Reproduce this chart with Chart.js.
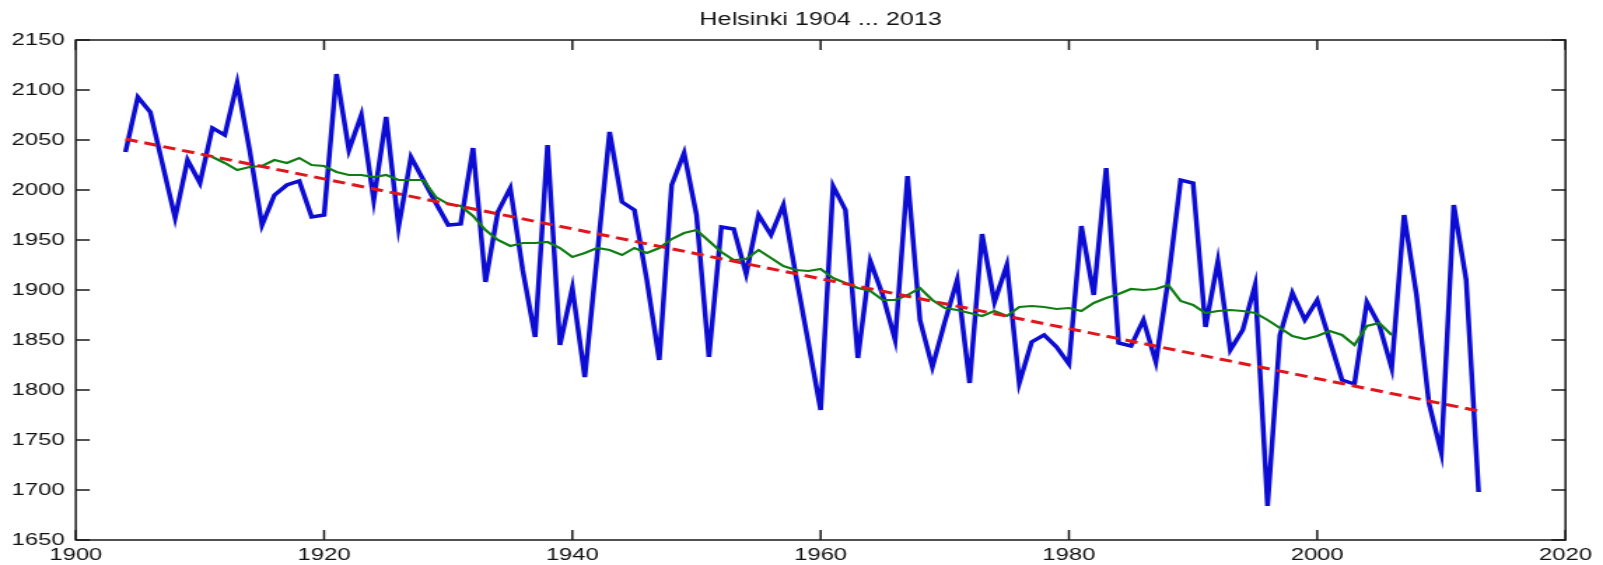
<!DOCTYPE html>
<html>
<head>
<meta charset="utf-8">
<title>Helsinki 1904 ... 2013</title>
<script src="https://cdn.jsdelivr.net/npm/chart.js@4/dist/chart.umd.min.js"></script>
<style>
  html, body { margin: 0; padding: 0; background: #fff; overflow: hidden; }
  /* the figure is drawn at a narrower width and stretched horizontally */
  #wrap { width: 1145px; height: 565px; transform: scale(1.4, 1); transform-origin: 0 0; }
  #c { display: block; }
</style>
</head>
<body>
<div id="wrap"><canvas id="c" width="1145" height="565"></canvas></div>
<script>
// Yearly values, Helsinki
const years = [
  1904, 1905, 1906, 1907, 1908, 1909, 1910, 1911, 1912, 1913,
  1914, 1915, 1916, 1917, 1918, 1919, 1920, 1921, 1922, 1923,
  1924, 1925, 1926, 1927, 1928, 1929, 1930, 1931, 1932, 1933,
  1934, 1935, 1936, 1937, 1938, 1939, 1940, 1941, 1942, 1943,
  1944, 1945, 1946, 1947, 1948, 1949, 1950, 1951, 1952, 1953,
  1954, 1955, 1956, 1957, 1958, 1959, 1960, 1961, 1962, 1963,
  1964, 1965, 1966, 1967, 1968, 1969, 1970, 1971, 1972, 1973,
  1974, 1975, 1976, 1977, 1978, 1979, 1980, 1981, 1982, 1983,
  1984, 1985, 1986, 1987, 1988, 1989, 1990, 1991, 1992, 1993,
  1994, 1995, 1996, 1997, 1998, 1999, 2000, 2001, 2002, 2003,
  2004, 2005, 2006, 2007, 2008, 2009, 2010, 2011, 2012, 2013
];
const values = [
  2038, 2093, 2078, 2025, 1972, 2030, 2007, 2062, 2055, 2107,
  2040, 1965, 1995, 2005, 2009, 1973, 1975, 2116, 2040, 2075,
  1990, 2073, 1963, 2033, 2010, 1987, 1965, 1966, 2042, 1908,
  1978, 2002, 1920, 1853, 2045, 1845, 1902, 1813, 1935, 2058,
  1988, 1980, 1910, 1830, 2005, 2037, 1975, 1833, 1963, 1961,
  1916, 1975, 1955, 1985, 1915, 1848, 1780, 2004, 1980, 1832,
  1929, 1895, 1850, 2014, 1870, 1823, 1868, 1910, 1807, 1956,
  1888, 1925, 1807, 1848, 1855, 1843, 1826, 1964, 1895, 2022,
  1847, 1844, 1870, 1828, 1910, 2010, 2007, 1863, 1929, 1840,
  1860, 1905, 1684, 1855, 1897, 1870, 1890, 1850, 1810, 1806,
  1888, 1865, 1822, 1975, 1895, 1787, 1737, 1985, 1910, 1698
];

// Running mean (15-year window)
const avgYears = [
  1911, 1912, 1913, 1914, 1915, 1916, 1917, 1918, 1919, 1920,
  1921, 1922, 1923, 1924, 1925, 1926, 1927, 1928, 1929, 1930,
  1931, 1932, 1933, 1934, 1935, 1936, 1937, 1938, 1939, 1940,
  1941, 1942, 1943, 1944, 1945, 1946, 1947, 1948, 1949, 1950,
  1951, 1952, 1953, 1954, 1955, 1956, 1957, 1958, 1959, 1960,
  1961, 1962, 1963, 1964, 1965, 1966, 1967, 1968, 1969, 1970,
  1971, 1972, 1973, 1974, 1975, 1976, 1977, 1978, 1979, 1980,
  1981, 1982, 1983, 1984, 1985, 1986, 1987, 1988, 1989, 1990,
  1991, 1992, 1993, 1994, 1995, 1996, 1997, 1998, 1999, 2000,
  2001, 2002, 2003, 2004, 2005, 2006
];
const avgValues = [
  2033, 2027, 2020, 2023, 2024, 2030, 2027, 2032, 2025, 2024,
  2018, 2015, 2015, 2013, 2015, 2010, 2010, 2010, 1993, 1986,
  1984, 1974, 1960, 1950, 1944, 1947, 1947, 1948, 1942, 1933,
  1937, 1942, 1940, 1935, 1942, 1937, 1942, 1951, 1957, 1960,
  1949, 1938, 1930, 1931, 1940, 1932, 1924, 1920, 1919, 1921,
  1912, 1907, 1902, 1899, 1890, 1890, 1895, 1902, 1890, 1882,
  1880, 1877, 1874, 1879, 1874, 1883, 1884, 1883, 1881, 1882,
  1879, 1887, 1892, 1896, 1901, 1900, 1901, 1905, 1889, 1885,
  1877, 1879, 1880, 1879, 1877, 1870, 1862, 1854, 1851, 1854,
  1859, 1855, 1845, 1864, 1867, 1855
];

// Linear trend end points
const trendYears = [1904, 2013];
const trendValues = [2051, 1779];

// Axis ticks
const xTicks = [1900, 1920, 1940, 1960, 1980, 2000, 2020];
const yTicks = [1650, 1700, 1750, 1800, 1850, 1900, 1950, 2000, 2050, 2100, 2150];
const titleText = 'Helsinki 1904 ... 2013';

const FONT = '"Liberation Sans", Arial, Helvetica, sans-serif';

const pairs = (xs, ys) => xs.map((x, i) => ({ x: x, y: ys[i] }));

// Box around the axes, inward tick marks on all four sides, centred title
const framePlugin = {
  id: 'frame',
  afterDraw(chart) {
    const { ctx, chartArea: a, scales } = chart;
    const len = 10;
    ctx.save();
    ctx.strokeStyle = '#1a1a1a';
    ctx.lineWidth = 1.5;
    ctx.beginPath();
    xTicks.forEach(v => {
      const px = scales.x.getPixelForValue(v);
      ctx.moveTo(px, a.bottom); ctx.lineTo(px, a.bottom - len);
      ctx.moveTo(px, a.top); ctx.lineTo(px, a.top + len);
    });
    yTicks.forEach(v => {
      const py = scales.y.getPixelForValue(v);
      ctx.moveTo(a.left, py); ctx.lineTo(a.left + len, py);
      ctx.moveTo(a.right, py); ctx.lineTo(a.right - len, py);
    });
    ctx.stroke();
    ctx.strokeRect(a.left, a.top, a.right - a.left, a.bottom - a.top);

    ctx.fillStyle = '#111';
    ctx.font = '18px ' + FONT;
    ctx.textAlign = 'center';
    ctx.textBaseline = 'middle';
    ctx.fillText(titleText, (a.left + a.right) / 2, 20);
    ctx.restore();
  }
};

new Chart(document.getElementById('c'), {
  type: 'line',
  data: {
    datasets: [
      {
        label: 'trend',
        data: pairs(trendYears, trendValues),
        borderColor: '#e0161c',
        borderWidth: 3,
        borderDash: [9, 5],
        pointRadius: 0,
        tension: 0,
        fill: false,
        order: 0
      },
      {
        label: 'mean',
        data: pairs(avgYears, avgValues),
        borderColor: '#0f7d12',
        borderWidth: 2.2,
        pointRadius: 0,
        tension: 0,
        fill: false,
        order: 1
      },
      {
        label: 'Helsinki',
        data: pairs(years, values),
        borderColor: '#0c0cd2',
        borderWidth: 3.5,
        pointRadius: 0,
        tension: 0,
        fill: false,
        order: 2
      }
    ]
  },
  options: {
    responsive: false,
    animation: false,
    devicePixelRatio: 1,
    layout: { padding: { top: 40, left: 0, right: 26.8, bottom: 0 } },
    plugins: {
      legend: { display: false },
      title: { display: false },
      tooltip: { enabled: false }
    },
    scales: {
      x: {
        type: 'linear',
        min: 1900,
        max: 2020,
        afterBuildTicks: s => { s.ticks = xTicks.map(v => ({ value: v })); },
        afterFit: s => { s.height = 25; },
        grid: { display: false, drawTicks: false },
        border: { display: false },
        ticks: {
          padding: 5,
          color: '#111',
          font: { family: FONT, size: 17 },
          maxRotation: 0,
          autoSkip: false,
          callback: v => String(v)
        }
      },
      y: {
        type: 'linear',
        min: 1650,
        max: 2150,
        afterBuildTicks: s => { s.ticks = yTicks.map(v => ({ value: v })); },
        afterFit: s => { s.width = 54.14; },
        grid: { display: false, drawTicks: false },
        border: { display: false },
        ticks: {
          padding: 8,
          color: '#111',
          font: { family: FONT, size: 17 },
          autoSkip: false,
          callback: v => String(v)
        }
      }
    }
  },
  plugins: [framePlugin]
});
</script>
</body>
</html>
